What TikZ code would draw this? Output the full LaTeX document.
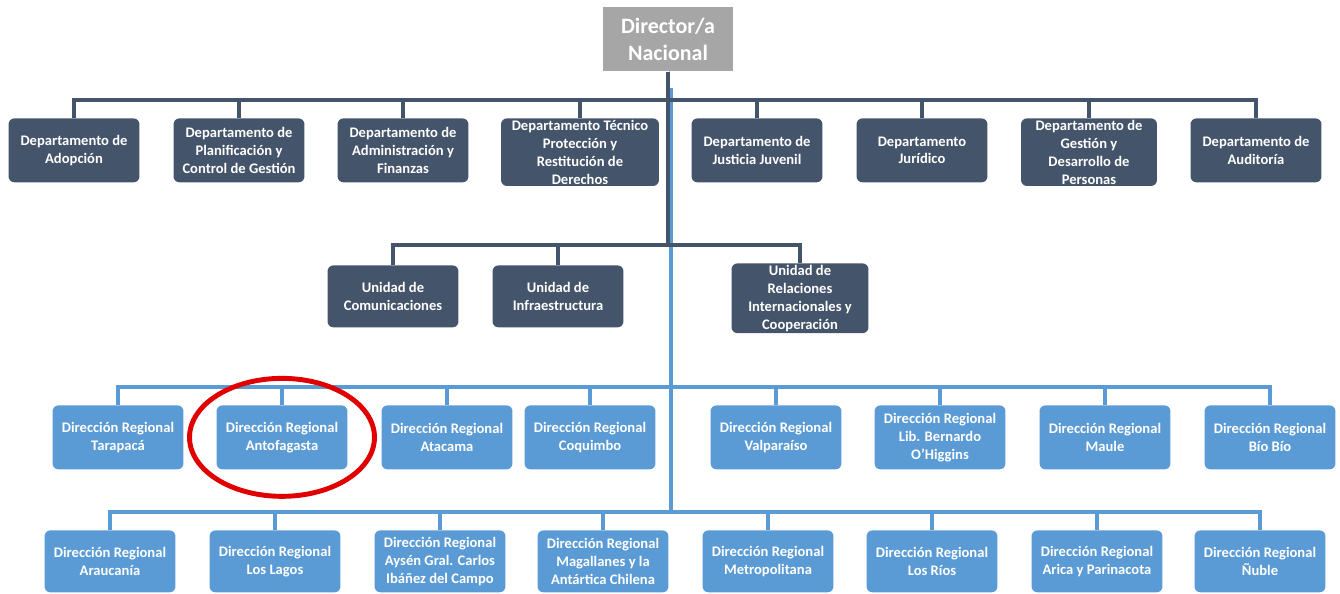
\documentclass[tikz,border=0pt]{standalone}
\usepackage{fontspec}
\setmainfont{Carlito}
\definecolor{dkslate}{HTML}{44546A}
\definecolor{regblue}{HTML}{5B9BD5}
\definecolor{dirgray}{HTML}{A6A6A6}
\definecolor{markred}{HTML}{E00000}

\begin{document}
\begin{tikzpicture}[x=0.02cm,y=-0.02cm,
	unitbox/.style={anchor=north,fill=dkslate,text=white,rounded corners=0.12cm,
		align=center,minimum width=2.62cm,minimum height=1.28cm,inner xsep=1pt,inner ysep=1pt,
		font=\bfseries\fontsize{8.3}{10.2}\selectfont},
	regbox/.style={unitbox,fill=regblue},
	dkline/.style={draw=dkslate,line width=2pt},
	blline/.style={draw=regblue,line width=2pt}]
	\useasboundingbox (0,0) rectangle (1340,593);
	% director
	\node (dir) [anchor=north,fill=dirgray,text=white,minimum width=2.62cm,minimum height=1.28cm,
		align=center,font=\bfseries\fontsize{12.5}{15}\selectfont] at (668,7) {Director/a\\Nacional};
	% departamentos
	\node (d1) [unitbox] at (74,118) {Departamento de\\Adopción};
	\node (d2) [unitbox] at (239,118) {Departamento de\\Planificación y\\Control de Gestión};
	\node (d3) [unitbox] at (403,118) {Departamento de\\Administración y\\Finanzas};
	\node (d4) [unitbox,minimum width=3.16cm] at (580,118) {Departamento Técnico\\Protección y\\Restitución de\\Derechos};
	\node (d5) [unitbox] at (757,118) {Departamento de\\Justicia Juvenil};
	\node (d6) [unitbox] at (922,118) {Departamento\\Jurídico};
	\node (d7) [unitbox,minimum width=2.72cm] at (1089,118) {Departamento de\\Gestión y\\Desarrollo de\\Personas};
	\node (d8) [unitbox] at (1256,118) {Departamento de\\Auditoría};
	% unidades
	\node (u1) [unitbox,minimum height=1.24cm] at (393,265) {Unidad de\\Comunicaciones};
	\node (u2) [unitbox,minimum height=1.24cm] at (558,265) {Unidad de\\Infraestructura};
	\node (u3) [unitbox,minimum width=2.74cm] at (800,263) {Unidad de\\Relaciones\\Internacionales y\\Cooperación};
	% direcciones regionales
	\node (r1) [regbox] at (118,405) {Dirección Regional\\Tarapacá};
	\node (r2) [regbox] at (282,405) {Dirección Regional\\Antofagasta};
	\node (r3) [regbox] at (447,405) {Dirección Regional\\Atacama};
	\node (r4) [regbox] at (590,405) {Dirección Regional\\Coquimbo};
	\node (r5) [regbox] at (776,405) {Dirección Regional\\Valparaíso};
	\node (r6) [regbox] at (940,405) {Dirección Regional\\Lib. Bernardo\\O'Higgins};
	\node (r7) [regbox] at (1105,405) {Dirección Regional\\Maule};
	\node (r8) [regbox] at (1270,405) {Dirección Regional\\Bío Bío};
	\node (s1) [regbox,minimum height=1.24cm] at (110,530) {Dirección Regional\\Araucanía};
	\node (s2) [regbox,minimum height=1.24cm] at (275,530) {Dirección Regional\\Los Lagos};
	\node (s3) [regbox,minimum height=1.24cm] at (440,530) {Dirección Regional\\Aysén Gral. Carlos\\Ibáñez del Campo};
	\node (s4) [regbox,minimum height=1.24cm] at (603,530) {Dirección Regional\\Magallanes y la\\Antártica Chilena};
	\node (s5) [regbox,minimum height=1.24cm] at (768,530) {Dirección Regional\\Metropolitana};
	\node (s6) [regbox,minimum height=1.24cm] at (932,530) {Dirección Regional\\Los Ríos};
	\node (s7) [regbox,minimum height=1.24cm] at (1097,530) {Dirección Regional\\Arica y Parinacota};
	\node (s8) [regbox,minimum height=1.24cm] at (1260,530) {Dirección Regional\\Ñuble};
	% bus levels
	\coordinate (bar1) at (668,100);
	\coordinate (bar2) at (668,245);
	\coordinate (bar3) at (668,387);
	\coordinate (bar4) at (668,512);
	\coordinate (trunk) at (671,88);
	% connectors
	\draw[blline] (trunk) -- (trunk |- bar4);
	\foreach \n in {r1,r2,r3,r4,r5,r6,r7,r8}
		\draw[blline] (trunk) |- (\n.north |- bar3) -- (\n.north);
	\foreach \n in {s1,s2,s3,s4,s5,s6,s7,s8}
		\draw[blline] (trunk) |- (\n.north |- bar4) -- (\n.north);
	\draw[dkline] (dir.south) -- (dir.south |- bar2);
	\foreach \n in {d1,d2,d3,d4,d5,d6,d7,d8}
		\draw[dkline] (dir.south) |- (\n.north |- bar1) -- (\n.north);
	\foreach \n in {u1,u2,u3}
		\draw[dkline] (dir.south) |- (\n.north |- bar2) -- (\n.north);
	% highlight
	\draw[markred,line width=2.8pt] (r2.center) ellipse [x radius=1.85cm,y radius=1.18cm];
\end{tikzpicture}
\end{document}
